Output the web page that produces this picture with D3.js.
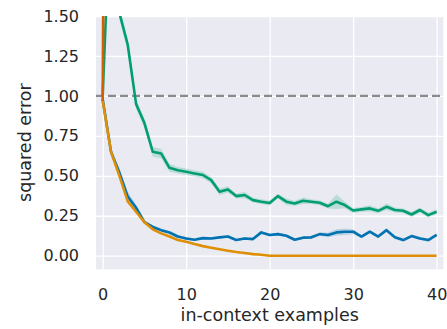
<!DOCTYPE html>
<html>
<head>
<meta charset="utf-8">
<script src="https://cdn.jsdelivr.net/npm/d3@7"></script>
<style>
  html, body { margin: 0; padding: 0; background: #ffffff; }
  svg { display: block; }
  text { font-family: "DejaVu Sans", sans-serif; fill: #262626; }
</style>
</head>
<body>
<svg id="chart" width="447" height="329"></svg>
<script>
// x = number of in-context examples, 0..40
const examples = d3.range(0, 41);

// Transformer
const transformer = [0.98, 0.65, 0.52, 0.37, 0.30, 0.21, 0.18, 0.16, 0.145, 0.12,
  0.108, 0.10, 0.11, 0.108, 0.115, 0.12, 0.098, 0.108, 0.104, 0.146,
  0.13, 0.135, 0.125, 0.10, 0.113, 0.115, 0.135, 0.13, 0.146, 0.15,
  0.15, 0.12, 0.15, 0.12, 0.16, 0.115, 0.098, 0.123, 0.108, 0.098, 0.13];
const transformerBand = [0.01, 0.01, 0.03, 0.03, 0.02, 0.01, 0.01, 0.01, 0.01, 0.01,
  0.008, 0.008, 0.008, 0.008, 0.008, 0.008, 0.008, 0.008, 0.008, 0.01,
  0.008, 0.008, 0.008, 0.008, 0.008, 0.01, 0.01, 0.015, 0.02, 0.02,
  0.015, 0.01, 0.01, 0.01, 0.01, 0.01, 0.01, 0.01, 0.01, 0.01, 0.01];

// Least squares
const leastSquares = [0.97, 0.65, 0.50, 0.34, 0.275, 0.21, 0.165, 0.14, 0.12, 0.098,
  0.088, 0.073, 0.06, 0.05, 0.04, 0.031, 0.023, 0.017, 0.01, 0.006,
  0, 0, 0, 0, 0, 0, 0, 0, 0, 0,
  0, 0, 0, 0, 0, 0, 0, 0, 0, 0, 0];

// 3-nearest neighbours
const nearest = [1.0, 2.3, 1.52, 1.32, 0.95, 0.83, 0.65, 0.64, 0.55, 0.535,
  0.525, 0.515, 0.505, 0.473, 0.40, 0.415, 0.373, 0.38, 0.348, 0.338,
  0.33, 0.373, 0.338, 0.327, 0.344, 0.338, 0.331, 0.31, 0.338, 0.317,
  0.283, 0.29, 0.296, 0.281, 0.306, 0.286, 0.281, 0.258, 0.286, 0.254, 0.275];
const nearestBand = [0.02, 0.05, 0.04, 0.04, 0.03, 0.03, 0.03, 0.03, 0.025, 0.02,
  0.02, 0.02, 0.02, 0.02, 0.02, 0.02, 0.015, 0.02, 0.015, 0.015,
  0.015, 0.015, 0.02, 0.015, 0.02, 0.015, 0.015, 0.015, 0.045, 0.02,
  0.015, 0.015, 0.02, 0.015, 0.02, 0.015, 0.015, 0.015, 0.015, 0.015, 0.015];

// Averaging (only the first step lies inside the plotted range)
const averagingX = [0, 1];
const averaging = [0.97, 10.0];

const yTicks = [0, 0.25, 0.5, 0.75, 1.0, 1.25, 1.5];
const xTicks = [0, 10, 20, 30, 40];
const baseline = 1.0;

const colors = { transformer: "#0173b2", leastSquares: "#de8f05", nearest: "#029e73", averaging: "#d55e00" };

const svg = d3.select("#chart");
const plot = { left: 96, right: 443.3, top: 16, bottom: 269.3 };

const x = d3.scaleLinear().domain([-0.8, 40.8]).range([plot.left, plot.right]);
const y = d3.scaleLinear().domain([-0.085, 1.5]).range([plot.bottom, plot.top]);

// background
svg.append("rect")
  .attr("x", plot.left).attr("y", plot.top)
  .attr("width", plot.right - plot.left).attr("height", plot.bottom - plot.top)
  .attr("fill", "#eaeaf2");

svg.append("defs").append("clipPath").attr("id", "clip")
  .append("rect")
  .attr("x", plot.left).attr("y", plot.top)
  .attr("width", plot.right - plot.left).attr("height", plot.bottom - plot.top);

// grid
const xAxis = d3.axisBottom(x).tickValues(xTicks).tickSize(-(plot.bottom - plot.top)).tickPadding(19).tickFormat(d3.format("d"));
const yAxis = d3.axisLeft(y).tickValues(yTicks).tickSize(-(plot.right - plot.left)).tickPadding(17).tickFormat(d3.format(".2f"));

const gx = svg.append("g").attr("transform", `translate(0,${plot.bottom})`).call(xAxis);
const gy = svg.append("g").attr("transform", `translate(${plot.left},0)`).call(yAxis);
[gx, gy].forEach(g => {
  g.select(".domain").remove();
  g.selectAll(".tick line").attr("stroke", "#ffffff").attr("stroke-width", 1.3);
  g.selectAll(".tick text").attr("fill", "#262626").style("font-size", "16px");
});

const layer = svg.append("g").attr("clip-path", "url(#clip)");

// reference line at squared error 1
layer.append("line")
  .attr("x1", plot.left).attr("x2", plot.right)
  .attr("y1", y(baseline)).attr("y2", y(baseline))
  .attr("stroke", "#8a8a8a").attr("stroke-width", 2.2)
  .attr("stroke-dasharray", "8,4");

function drawSeries(values, band, color, xs) {
  const pts = values.map((v, i) => ({ x: xs ? xs[i] : examples[i], v, b: band ? band[i] : 0 }));
  if (band) {
    layer.append("path")
      .datum(pts)
      .attr("fill", color).attr("fill-opacity", 0.2)
      .attr("d", d3.area().x(d => x(d.x)).y0(d => y(d.v - d.b)).y1(d => y(d.v + d.b)));
  }
  layer.append("path")
    .datum(pts)
    .attr("fill", "none").attr("stroke", color).attr("stroke-width", 2.6)
    .attr("stroke-linejoin", "round").attr("stroke-linecap", "butt")
    .attr("d", d3.line().x(d => x(d.x)).y(d => y(d.v)));
}

drawSeries(transformer, transformerBand, colors.transformer);
drawSeries(leastSquares, null, colors.leastSquares);
drawSeries(nearest, nearestBand, colors.nearest);
drawSeries(averaging, null, colors.averaging, averagingX);

// axis labels
svg.append("text")
  .attr("x", (plot.left + plot.right) / 2 + 0).attr("y", 321)
  .attr("text-anchor", "middle").style("font-size", "17.5px")
  .text("in-context examples");

svg.append("text")
  .attr("transform", `translate(31,${(plot.top + plot.bottom) / 2}) rotate(-90)`)
  .attr("text-anchor", "middle").style("font-size", "17.5px")
  .text("squared error");
</script>
</body>
</html>
